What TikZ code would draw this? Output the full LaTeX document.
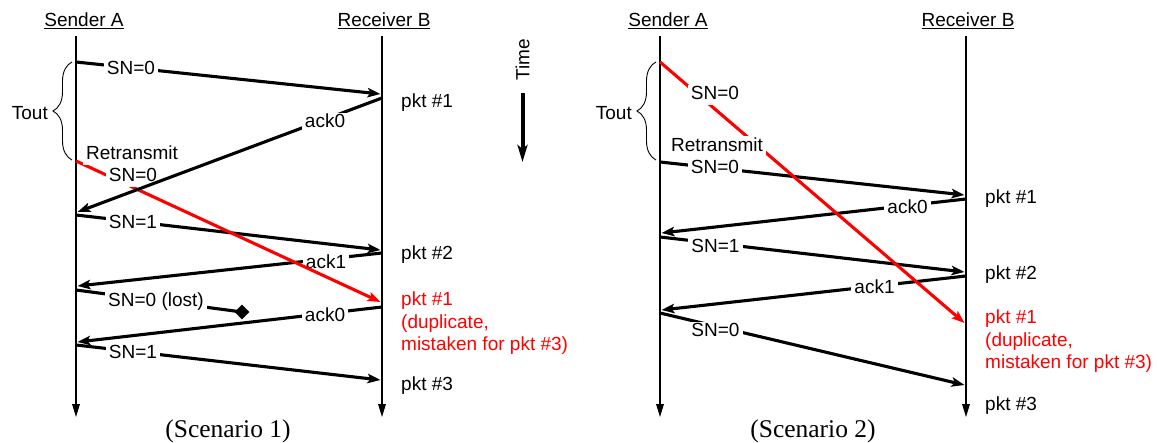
\documentclass[tikz,border=0pt]{standalone}
\usepackage{fontspec}
\setmainfont{Liberation Sans}
\newfontfamily\capfont{Liberation Serif}
\usetikzlibrary{arrows.meta,shapes.geometric,decorations.pathreplacing}
\tikzset{
  lifeline/.style={line width=2.9pt,-{Triangle[length=14pt,width=7pt]}},
  msg/.style={line width=3.1pt,-{Stealth[length=13pt,width=9.5pt,inset=3pt]}},
  redmsg/.style={msg,red},
  lbl/.style={fill=white,inner xsep=3pt,inner ysep=1pt,text height=14pt,text depth=4pt,font=\fontsize{19}{22}\selectfont},
  txt/.style={anchor=base west,inner sep=0pt,font=\fontsize{19}{22}\selectfont},
  redtxt/.style={txt,text=red},
  hdr/.style={anchor=base,inner sep=0pt,font=\fontsize{19}{22}\selectfont},
  tbrace/.style={decorate,decoration={brace,amplitude=19pt},line width=0.9pt},
  captxt/.style={anchor=base,inner sep=0pt,font=\capfont\fontsize{25.5}{28}\selectfont},
}
\begin{document}
\begin{tikzpicture}[x=1pt,y=-1pt]
\useasboundingbox (0,0) rectangle (1159,443);

% ---------------- Scenario 1 ----------------
\node[hdr] (sa1) at (84,27) {\underline{Sender A}};
\node[hdr] (rb1) at (384,27) {\underline{Receiver B}};
\coordinate (A1top) at (76,36);  \coordinate (A1bot) at (76,418);
\coordinate (B1top) at (382,36); \coordinate (B1bot) at (382,418);
\draw[lifeline] (A1top) -- (A1bot);
\draw[lifeline] (B1top) -- (B1bot);

\coordinate (s1a) at (76,62);    \coordinate (s1b) at (380.5,94);
\coordinate (s1c) at (382,98);   \coordinate (s1d) at (77.5,212);
\coordinate (s1e) at (76,161);   \coordinate (s1f) at (380.5,302);
\coordinate (s1g) at (76,215);   \coordinate (s1h) at (380.5,250);
\coordinate (s1i) at (382,253);  \coordinate (s1j) at (77.5,286);
\coordinate (s1k) at (76,290);
\coordinate (s1m) at (382,307);  \coordinate (s1n) at (77.5,342);
\coordinate (s1o) at (76,345);   \coordinate (s1p) at (380.5,380);

\draw[msg] (s1a) -- (s1b);
\draw[msg] (s1g) -- (s1h);
\draw[msg] (s1i) -- (s1j);
\node[diamond,fill=black,minimum width=15pt,minimum height=15pt,inner sep=0pt] (d1) at (242,312) {};
\draw[line width=3.1pt] (s1k) -- (d1.center);
\draw[msg] (s1m) -- (s1n);
\draw[msg] (s1o) -- (s1p);

\node[lbl] (l1) at (131,70) {SN=0};
\node[lbl] (l4) at (133,224) {SN=1};
\node[lbl] (l5) at (326,264) {ack1};
\node[lbl] (l6) at (156,302) {SN=0 (lost)};
\node[lbl] (l7) at (325,317) {ack0};
\node[lbl] (l8) at (133,354) {SN=1};

\draw[redmsg] (s1e) -- (s1f);
\node[lbl] (l3) at (133,177) {SN=0};
\node[lbl] (rt1) at (132,155) {Retransmit};
\draw[msg] (s1c) -- (s1d);
\node[lbl] (l2) at (325,123) {ack0};

\node[txt] (p11) at (401,107.5) {pkt \#1};
\node[txt] (p12) at (401,260) {pkt \#2};
\node[redtxt] (p1d1) at (401,306) {pkt \#1};
\node[redtxt] (p1d2) at (401,328.5) {(duplicate,};
\node[redtxt] (p1d3) at (401,351) {mistaken for pkt \#3)};
\node[txt] (p13) at (401,390) {pkt \#3};

\coordinate (br1a) at (72,160); \coordinate (br1b) at (72,62);
\draw[tbrace] (br1a) -- (br1b);
\node[anchor=east,inner sep=0pt,font=\fontsize{19}{22}\selectfont] (to1) at (48,113) {Tout};

\node[rotate=90,inner sep=0pt,font=\fontsize{19}{22}\selectfont] (time) at (522.5,60) {Time};
\coordinate (ta) at (522.5,93); \coordinate (tb) at (522.5,162);
\draw[line width=4pt,-{Stealth[length=17pt,width=10pt,inset=4pt]}] (ta) -- (tb);

\node[captxt] (c1) at (228,437) {(Scenario 1)};

% ---------------- Scenario 2 ----------------
\node[hdr] (sa2) at (668,27) {\underline{Sender A}};
\node[hdr] (rb2) at (968,27) {\underline{Receiver B}};
\coordinate (A2top) at (660,36);  \coordinate (A2bot) at (660,418);
\coordinate (B2top) at (966,36);  \coordinate (B2bot) at (966,418);
\draw[lifeline] (A2top) -- (A2bot);
\draw[lifeline] (B2top) -- (B2bot);

\coordinate (s2a) at (660,62);    \coordinate (s2b) at (964.5,323);
\coordinate (s2c) at (660,162);   \coordinate (s2d) at (964.5,195);
\coordinate (s2e) at (966,199);   \coordinate (s2f) at (661.5,233);
\coordinate (s2g) at (660,237);   \coordinate (s2h) at (964.5,272);
\coordinate (s2i) at (966,276);   \coordinate (s2j) at (661.5,310);
\coordinate (s2k) at (660,313);   \coordinate (s2m) at (964.5,385);

\draw[msg] (s2c) -- (s2d);
\draw[msg] (s2e) -- (s2f);
\draw[msg] (s2g) -- (s2h);
\draw[msg] (s2i) -- (s2j);
\draw[msg] (s2k) -- (s2m);

\node[lbl] (k2) at (715,169) {SN=0};
\node[lbl] (k3) at (907.5,209) {ack0};
\node[lbl] (k4) at (715.5,248) {SN=1};
\node[lbl] (k5) at (874.5,289) {ack1};
\node[lbl] (k6) at (715.5,332) {SN=0};

\draw[redmsg] (s2a) -- (s2b);
\node[lbl] (k1) at (715,95) {SN=0};
\node[lbl,inner ysep=2pt] (rt2) at (717,147) {Retransmit};

\node[txt] (p21) at (985,204) {pkt \#1};
\node[txt] (p22) at (985,280) {pkt \#2};
\node[redtxt] (p2d1) at (985,324) {pkt \#1};
\node[redtxt] (p2d2) at (985,346.5) {(duplicate,};
\node[redtxt] (p2d3) at (985,369) {mistaken for pkt \#3)};
\node[txt] (p23) at (985,410) {pkt \#3};

\coordinate (br2a) at (656,160); \coordinate (br2b) at (656,62);
\draw[tbrace] (br2a) -- (br2b);
\node[anchor=east,inner sep=0pt,font=\fontsize{19}{22}\selectfont] (to2) at (632,113) {Tout};

\node[captxt] (c2) at (813,437) {(Scenario 2)};
\end{tikzpicture}
\end{document}
